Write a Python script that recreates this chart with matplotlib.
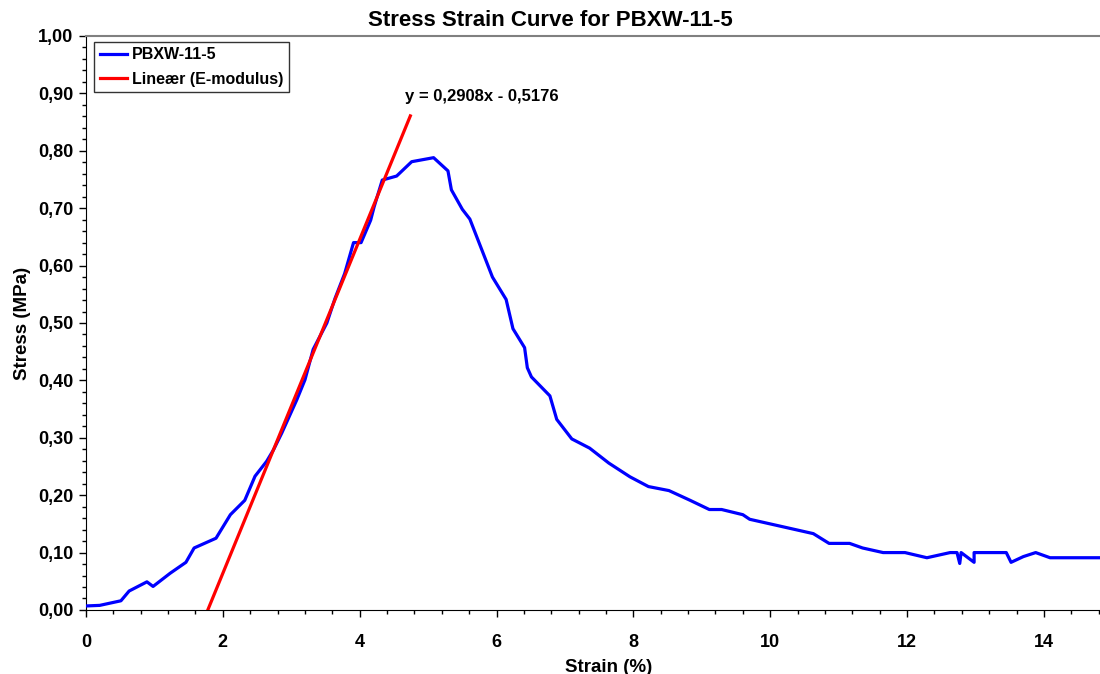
import numpy as np
import matplotlib.pyplot as plt
from matplotlib.ticker import MultipleLocator, FuncFormatter

plt.rcParams['font.family'] = ['Liberation Sans', 'DejaVu Sans']
plt.rcParams['font.weight'] = 'bold'

#%% data

strain = [0.0, 0.2, 0.51, 0.63, 0.89, 0.98, 1.23, 1.46, 1.58, 1.90, 2.11,
          2.32, 2.47, 2.64, 2.74, 2.86, 3.08, 3.20, 3.32, 3.52, 3.64, 3.78,
          3.91, 4.02, 4.16, 4.21, 4.33, 4.54, 4.76, 5.08, 5.29, 5.34, 5.50,
          5.61, 5.94, 6.14, 6.24, 6.41, 6.45, 6.51, 6.78, 6.88, 7.10, 7.36,
          7.64, 7.95, 8.22, 8.52, 8.83, 9.11, 9.29, 9.60, 9.70, 10.63, 10.86,
          11.16, 11.35, 11.65, 11.97, 12.29, 12.63, 12.73, 12.77, 12.79, 12.98,
          12.98, 13.45, 13.52, 13.70, 13.88, 14.09, 14.82]
stress = [0.007, 0.008, 0.016, 0.033, 0.049, 0.041, 0.064, 0.083, 0.108, 0.125, 0.166,
          0.191, 0.233, 0.259, 0.279, 0.308, 0.366, 0.401, 0.454, 0.500, 0.543, 0.586,
          0.640, 0.640, 0.679, 0.702, 0.749, 0.756, 0.781, 0.788, 0.765, 0.732, 0.698,
          0.681, 0.580, 0.541, 0.490, 0.457, 0.422, 0.406, 0.373, 0.332, 0.298, 0.282,
          0.256, 0.232, 0.215, 0.208, 0.191, 0.175, 0.175, 0.166, 0.158, 0.133, 0.116,
          0.116, 0.108, 0.100, 0.100, 0.091, 0.100, 0.100, 0.081, 0.100, 0.083,
          0.100, 0.100, 0.083, 0.093, 0.100, 0.091, 0.091]

slope = 0.2908
intercept = -0.5176
fit_x = [-intercept / slope, 4.74]

#%% plot

fig = plt.figure(figsize=(11, 6.74), dpi=100)
ax = fig.add_axes([0.0782, 0.095, 0.9218, 0.8516])

ax.plot(strain, stress, color='#0000ff', linewidth=2.3, label='PBXW-11-5', zorder=3)
ax.plot(fit_x, [slope * x + intercept for x in fit_x], color='#ff0000',
        linewidth=2.3, label='Lineær (E-modulus)', zorder=4)

ax.text(4.66, 0.894, 'y = 0,2908x - 0,5176', fontsize=12, fontweight='bold',
        va='center', ha='left')

ax.set_xlim(0, 14.82)
ax.set_ylim(0, 1.0)

ax.xaxis.set_major_locator(MultipleLocator(2))
ax.xaxis.set_minor_locator(MultipleLocator(0.4))
ax.yaxis.set_major_locator(MultipleLocator(0.1))
ax.yaxis.set_minor_locator(MultipleLocator(0.02))
ax.yaxis.set_major_formatter(FuncFormatter(lambda v, p: f'{v:.2f}'.replace('.', ',')))
ax.xaxis.set_major_formatter(FuncFormatter(lambda v, p: f'{v:.0f}'))

ax.tick_params(which='major', direction='out', length=5, width=1, labelsize=13)
ax.tick_params(which='minor', direction='out', length=3, width=1)
ax.tick_params(axis='x', which='major', pad=12)
ax.tick_params(axis='y', which='major', pad=4)

ax.spines['right'].set_visible(False)
ax.spines['top'].set_color('#808080')
ax.spines['top'].set_linewidth(1.5)

ax.set_xlabel('Strain (%)', fontsize=13.5, fontweight='bold', labelpad=6)
ax.xaxis.set_label_coords(0.515, -0.085)
ax.set_ylabel('Stress (MPa)', fontsize=13.5, fontweight='bold', labelpad=5)
ax.set_title('Stress Strain Curve for PBXW-11-5', fontsize=16, fontweight='bold',
             pad=7, x=0.4576)

leg = ax.legend(loc='upper left', bbox_to_anchor=(0.008, 0.99), fontsize=11.5,
                frameon=True, fancybox=False, borderpad=0.35, handlelength=1.7,
                labelspacing=0.6, handletextpad=0.3, borderaxespad=0)
leg.get_frame().set_edgecolor('black')
leg.get_frame().set_linewidth(1)

fig.savefig('out.png', dpi=100)
